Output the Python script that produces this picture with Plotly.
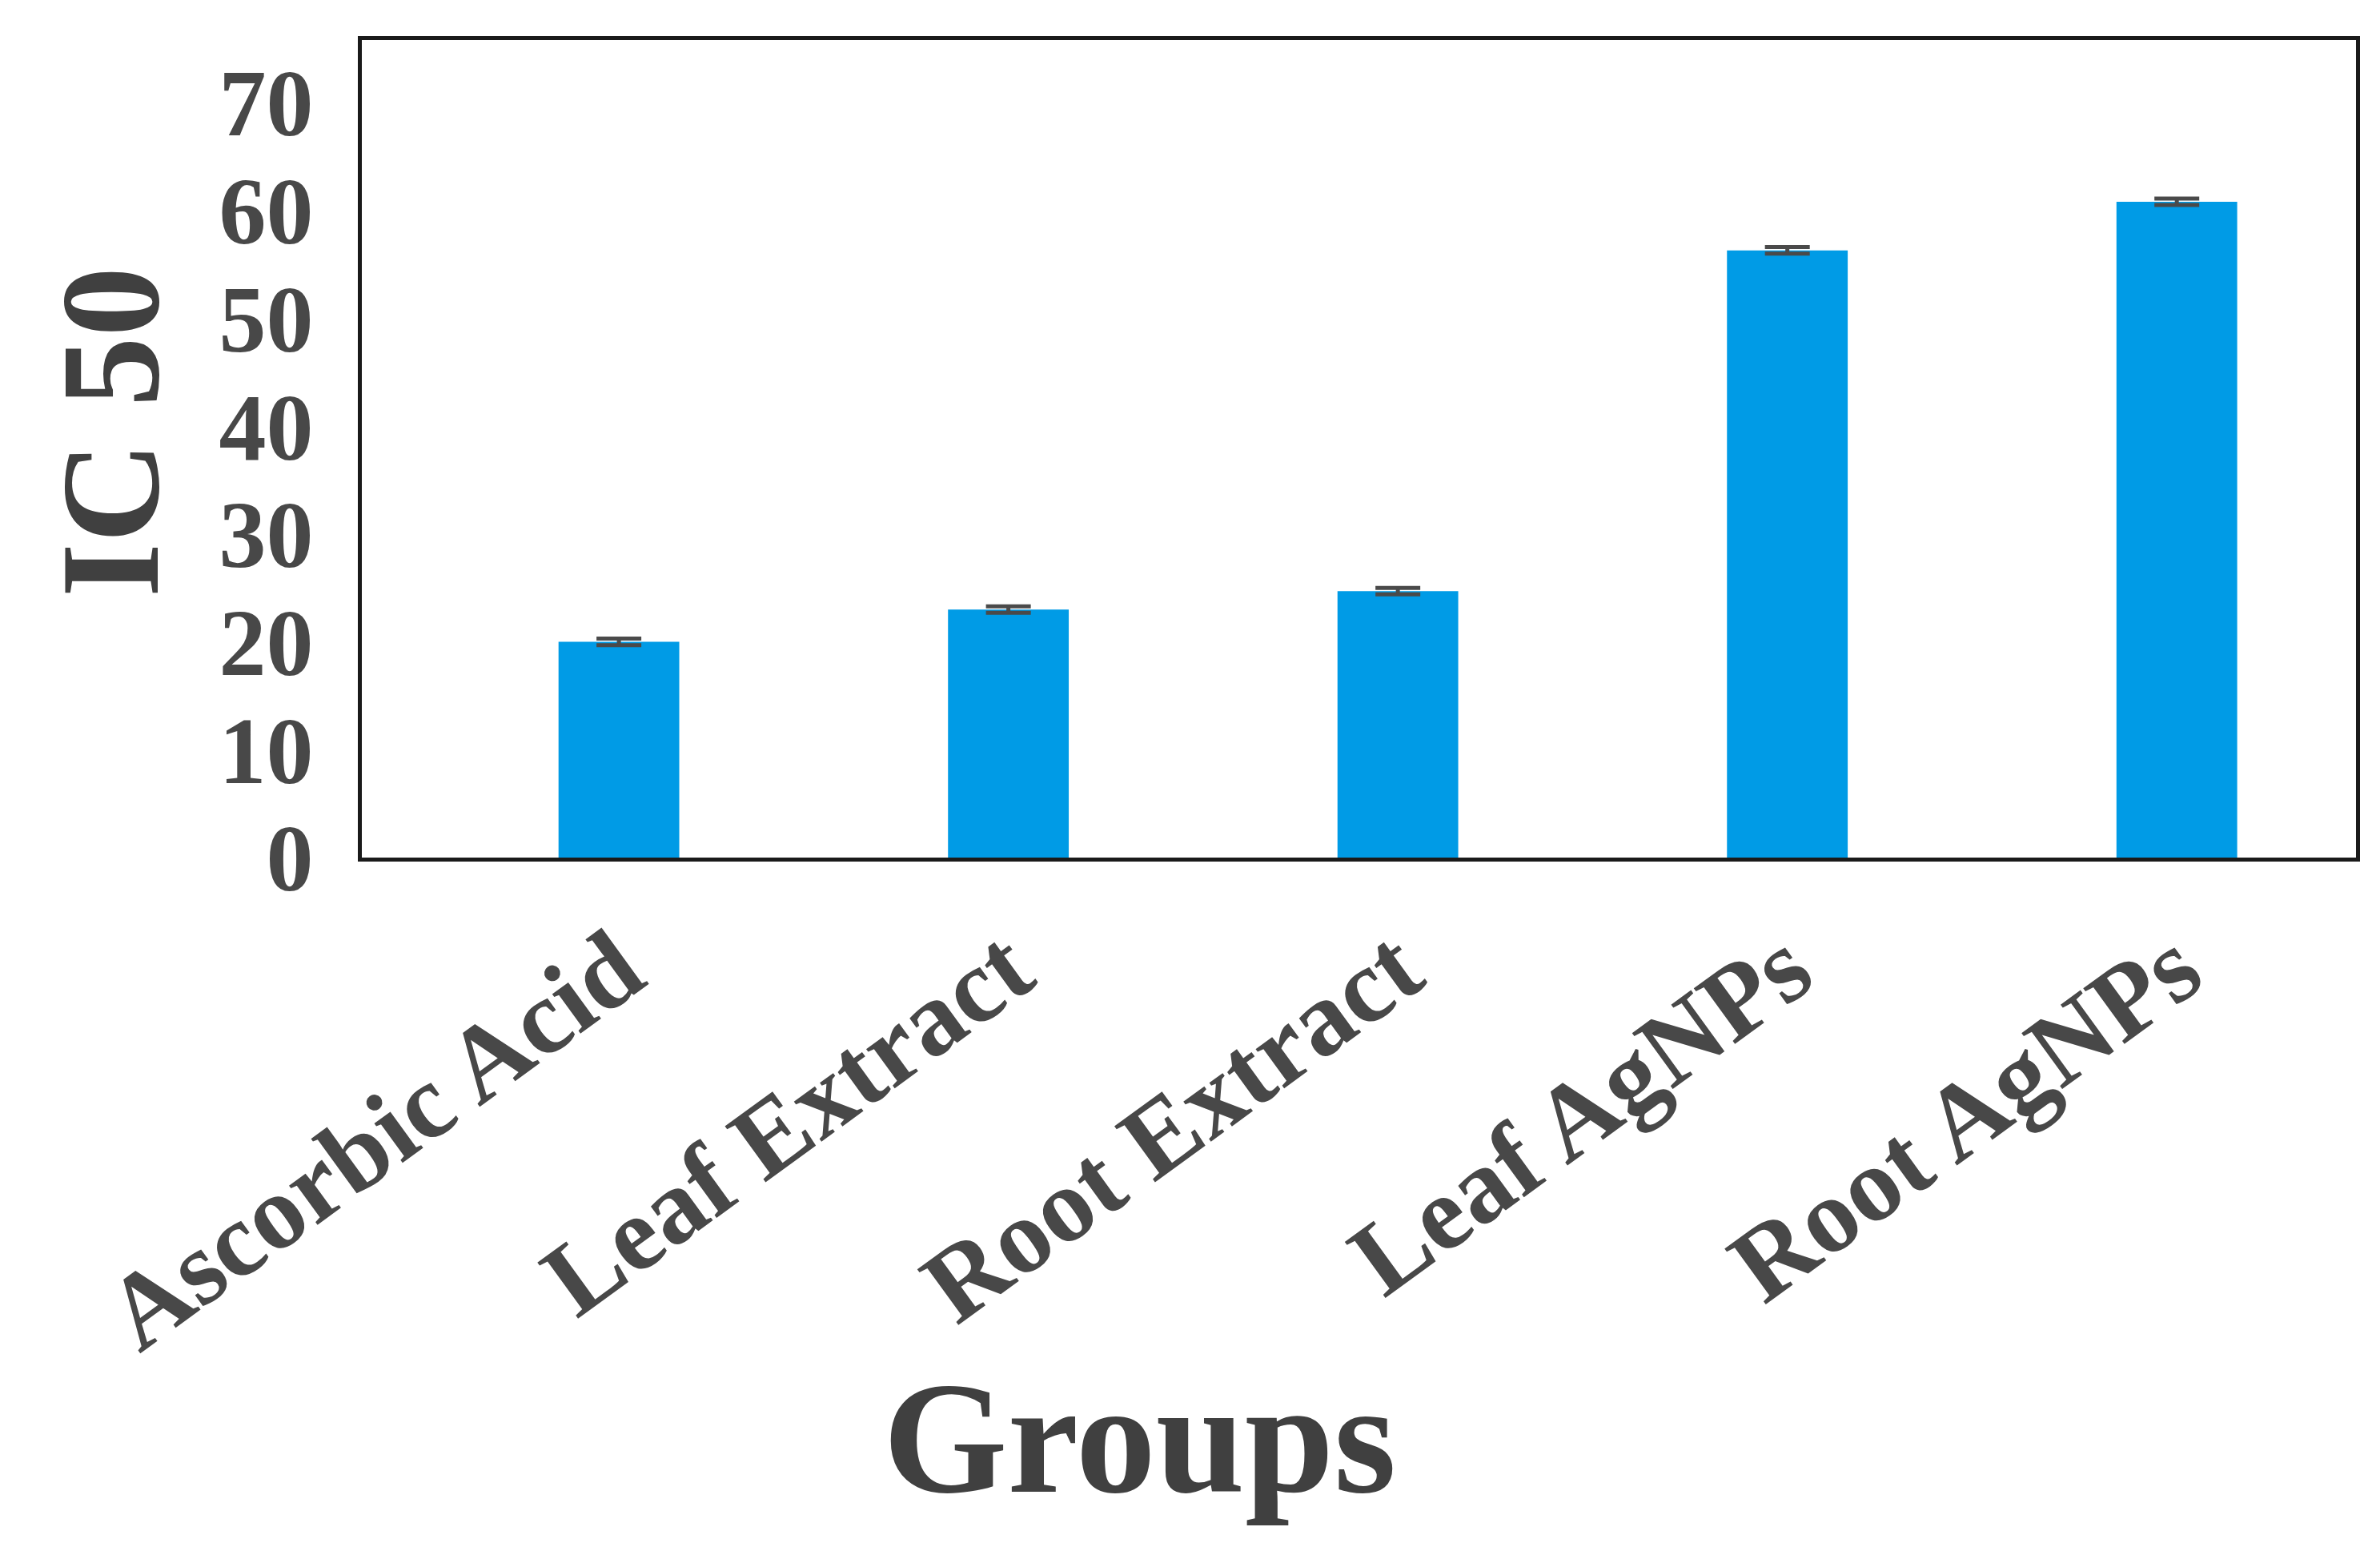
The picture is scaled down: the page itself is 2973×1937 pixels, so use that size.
import plotly.graph_objects as go

categories = ["Ascorbic Acid", "Leaf Extract", "Root Extract", "Leaf AgNPs", "Root AgNPs"]
ic50 = [20.0, 23.0, 24.7, 56.3, 60.8]
ic50_err = [0.3, 0.3, 0.3, 0.3, 0.3]
y_ticks = [0, 10, 20, 30, 40, 50, 60, 70]

serif = "Liberation Serif, Times New Roman, serif"
txt = "#484848"

fig = go.Figure()
fig.add_trace(go.Bar(
    x=list(range(len(categories))),
    y=ic50,
    width=0.31,
    marker=dict(color="#009BE6", line=dict(width=0)),
    error_y=dict(type="data", array=ic50_err, visible=True,
                 color="#4a4a4a", thickness=5, width=28),
))

fig.update_layout(
    width=2973, height=1937,
    paper_bgcolor="white", plot_bgcolor="white",
    margin=dict(l=444, r=38, t=42, b=874),
    showlegend=False,
    font=dict(family=serif, color=txt),
)

fig.update_xaxes(
    range=[-0.66, 4.46],
    tickmode="array", tickvals=list(range(len(categories))), ticktext=categories,
    tickangle=-36,
    tickfont=dict(family=serif, size=132, color=txt, weight="bold"),
    ticklabelstandoff=6,
    showline=True, linecolor="#1a1a1a", linewidth=5, mirror=True,
    showgrid=False, zeroline=False, ticks="",
)
fig.update_yaxes(
    range=[0, 75.8],
    tickmode="array", tickvals=y_ticks,
    tickfont=dict(family=serif, size=118, color=txt, weight="bold"),
    ticklabelstandoff=32,
    showline=True, linecolor="#1a1a1a", linewidth=5, mirror=True,
    showgrid=False, zeroline=False, ticks="",
)

fig.add_annotation(
    text="IC 50", xref="paper", yref="paper",
    x=-0.126, y=0.52, xanchor="center", yanchor="middle",
    textangle=-90, showarrow=False,
    font=dict(family=serif, size=175, color="#404040", weight="bold"),
)
fig.add_annotation(
    text="Groups", xref="paper", yref="paper",
    x=0.39, y=-0.71, xanchor="center", yanchor="middle",
    showarrow=False,
    font=dict(family=serif, size=200, color="#404040", weight="bold"),
)

fig.write_html("out.html")
